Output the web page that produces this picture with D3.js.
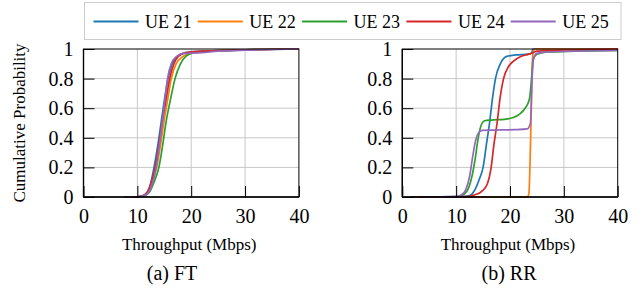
<!DOCTYPE html>
<html>
<head>
<meta charset="utf-8">
<script src="https://cdn.jsdelivr.net/npm/d3@7"></script>
<style>
  html, body { margin: 0; padding: 0; background: #fff; }
  svg { display: block; }
</style>
</head>
<body>
<svg id="chart" width="642" height="288"></svg>
<script>
// ---- data ----
const seriesNames = ["UE 21", "UE 22", "UE 23", "UE 24", "UE 25"];
const seriesColors = ["#1f77b4", "#ff7f0e", "#2ca02c", "#d62728", "#9467bd"];
const xTicks = [0, 10, 20, 30, 40];
const yTicks = [0, 0.2, 0.4, 0.6, 0.8, 1];
const yTickLabels = ["0", "0.2", "0.4", "0.6", "0.8", "1"];

// FT panel: [throughput Mbps, cumulative probability]
const ftUE21 = [[9,0],[10.5,0.005],[11.5,0.02],[12.3,0.07],[13.1,0.2],[13.8,0.35],[14.4,0.5],[15.0,0.65],[15.7,0.8],[16.5,0.9],[17.5,0.95],[19,0.975],[22,0.985],[25,0.99],[40,1]];
const ftUE22 = [[9,0],[11,0.005],[12,0.03],[12.8,0.1],[13.6,0.2],[14.3,0.35],[14.9,0.5],[15.6,0.65],[16.3,0.8],[17.2,0.9],[18.5,0.95],[20,0.975],[23,0.985],[25,0.99],[40,1]];
const ftUE23 = [[9,0],[11,0.005],[12.2,0.03],[13.1,0.1],[14.0,0.2],[14.7,0.35],[15.3,0.5],[16.1,0.65],[17.0,0.8],[18.0,0.9],[19.0,0.95],[20.5,0.975],[23,0.985],[26,0.99],[40,1]];
const ftUE24 = [[9,0],[10.8,0.005],[11.8,0.03],[12.6,0.1],[13.3,0.2],[14.0,0.35],[14.6,0.5],[15.3,0.65],[16.0,0.8],[16.8,0.9],[17.6,0.95],[19,0.975],[22,0.985],[25,0.99],[40,1]];
const ftUE25 = [[7.5,0],[10.5,0.003],[11.8,0.02],[12.6,0.07],[13.5,0.2],[14.1,0.35],[14.6,0.5],[15.1,0.65],[15.6,0.8],[16.3,0.9],[17.3,0.95],[18.5,0.97],[22,0.975],[25,0.985],[40,1]];

// RR panel
const rrUE21 = [[1.5,0],[11,0.003],[12.5,0.01],[13.5,0.05],[14.3,0.12],[15.0,0.2],[15.6,0.35],[16.2,0.5],[16.8,0.68],[17.3,0.8],[18.2,0.9],[19.4,0.95],[21,0.96],[23.5,0.965],[24.0,0.975],[24.3,1],[40,1]];
const rrUE22 = [[2.5,0],[23.2,0],[23.5,0.02],[23.7,0.2],[23.9,0.5],[24.1,0.85],[24.3,0.98],[24.7,1],[40,1]];
const rrUE23 = [[3,0],[10.5,0.003],[11.5,0.02],[12.3,0.06],[13.0,0.15],[13.5,0.25],[14.1,0.4],[14.6,0.48],[15.3,0.515],[16.5,0.52],[19,0.525],[20.5,0.535],[21.8,0.56],[22.8,0.6],[23.6,0.66],[24.0,0.8],[24.3,0.93],[25,0.965],[27,0.98],[32,0.985],[40,0.99]];
const rrUE24 = [[3,0],[12,0.003],[13.5,0.015],[14.8,0.04],[15.8,0.09],[16.5,0.2],[17.0,0.35],[17.6,0.5],[18.2,0.68],[18.8,0.8],[19.7,0.88],[20.7,0.92],[22,0.95],[23.5,0.965],[24.3,0.975],[25,0.985],[28,0.99],[40,1]];
const rrUE25 = [[4,0],[10,0.002],[11,0.015],[11.8,0.05],[12.5,0.14],[13.1,0.28],[13.6,0.38],[14.1,0.43],[14.8,0.45],[17,0.452],[21,0.455],[23.2,0.46],[23.8,0.5],[24.1,0.8],[24.4,0.94],[25,0.97],[27,0.98],[40,0.99]];

const ftData = [ftUE21, ftUE22, ftUE23, ftUE24, ftUE25];
const rrData = [rrUE21, rrUE22, rrUE23, rrUE24, rrUE25];
const captions = ["(a) FT", "(b) RR"];
const xLabel = "Throughput (Mbps)";
const yLabel = "Cumulative Probability";

// ---- drawing ----
const FONT = "'Liberation Serif', 'Times New Roman', serif";
const svg = d3.select("#chart").style("font-family", FONT);
const panels = [
  { left: 83.5, data: ftData, caption: captions[0], capX: 172, yLabel: true },
  { left: 402.3, data: rrData, caption: captions[1], capX: 509, yLabel: false }
];
const plotW = 215.4, plotTop = 49, plotBottom = 197;

function txt(sel) { return sel.style("font-family", FONT).attr("fill", "#000"); }

panels.forEach(p => {
  const x = d3.scaleLinear().domain([0, 40]).range([p.left, p.left + plotW]);
  const y = d3.scaleLinear().domain([0, 1]).range([plotBottom, plotTop]);
  const g = svg.append("g");

  // grid
  g.append("g").selectAll("line").data(xTicks.slice(1, -1)).join("line")
    .attr("x1", d => x(d)).attr("x2", d => x(d)).attr("y1", plotTop).attr("y2", plotBottom)
    .attr("stroke", "#c8c8c8").attr("stroke-width", 1);
  g.append("g").selectAll("line").data(yTicks.slice(1, -1)).join("line")
    .attr("x1", x(0)).attr("x2", x(40)).attr("y1", d => y(d)).attr("y2", d => y(d))
    .attr("stroke", "#c8c8c8").attr("stroke-width", 1);

  // curves
  const line = d3.line().x(d => x(d[0])).y(d => y(d[1])).curve(d3.curveMonotoneX);
  p.data.forEach((s, i) => {
    g.append("path").datum(s).attr("d", line)
      .attr("fill", "none").attr("stroke", seriesColors[i]).attr("stroke-width", 1.7)
      .attr("stroke-linejoin", "round");
  });

  // frame
  g.append("rect").attr("x", x(0)).attr("y", plotTop).attr("width", plotW).attr("height", plotBottom - plotTop)
    .attr("fill", "none").attr("stroke", "#000").attr("stroke-width", 1);

  // axes
  const xAxis = d3.axisBottom(x).tickValues(xTicks).tickSize(-11).tickPadding(12).tickFormat(d3.format("d"));
  const xa = g.append("g").attr("transform", `translate(0,${plotBottom})`).call(xAxis);
  const yAxis = d3.axisLeft(y).tickValues(yTicks).tickSize(-11).tickPadding(10)
    .tickFormat((d, i) => yTickLabels[i]);
  const ya = g.append("g").attr("transform", `translate(${x(0)},0)`).call(yAxis);
  [xa, ya].forEach(a => {
    a.attr("font-family", null).style("font-family", FONT);
    a.select(".domain").attr("stroke", "#000").attr("stroke-width", 1.4);
    a.selectAll(".tick line").attr("stroke", "#000").attr("stroke-width", 1);
    txt(a.selectAll(".tick text")).attr("font-size", 20);
  });
  ya.select(".domain").attr("d", `M0,${plotTop}V${plotBottom}`);
  xa.select(".domain").attr("d", `M${x(0)},0H${x(40)}`);

  // axis title
  txt(g.append("text")).attr("x", x(20) - 2).attr("y", 250).attr("text-anchor", "middle")
    .attr("font-size", 17).text(xLabel);
  // caption
  txt(g.append("text")).attr("x", p.capX).attr("y", 280).attr("text-anchor", "middle")
    .attr("font-size", 20).text(p.caption);

  if (p.yLabel) {
    txt(g.append("text")).attr("transform", `translate(25,${(plotTop + plotBottom) / 2}) rotate(-90)`)
      .attr("text-anchor", "middle").attr("font-size", 17).text(yLabel);
  }
});

// legend
const lg = svg.append("g");
lg.append("rect").attr("x", 84.5).attr("y", 2.5).attr("width", 536.5).attr("height", 37)
  .attr("fill", "#fff").attr("stroke", "#cccccc").attr("stroke-width", 1);
const legX = d3.scalePoint().domain(seriesNames).range([93.5, 510.7]);
seriesNames.forEach((n, i) => {
  const lx = legX(n);
  lg.append("line").attr("x1", lx).attr("x2", lx + 45).attr("y1", 21.5).attr("y2", 21.5)
    .attr("stroke", seriesColors[i]).attr("stroke-width", 2);
  txt(lg.append("text")).attr("x", lx + 51.5).attr("y", 27.5).attr("font-size", 18).text(n);
});
</script>
</body>
</html>
